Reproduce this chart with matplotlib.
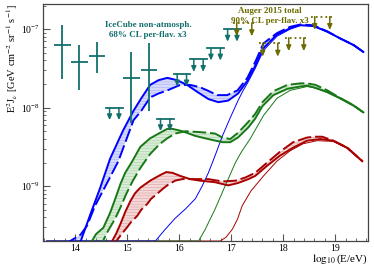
import numpy as np
import matplotlib
matplotlib.use('Agg')
from matplotlib import pyplot as plt
from matplotlib.ticker import MultipleLocator, FixedLocator, LogLocator, NullFormatter

plt.rcParams['font.family'] = ['Liberation Serif', 'DejaVu Serif']
plt.rcParams['mathtext.fontset'] = 'stix'
plt.rcParams['hatch.linewidth'] = 0.4

# x = log10(E/eV), y = log10(E^2 J)
blue_solid_x = [14.06, 14.10, 14.29, 14.48, 14.67, 14.92, 15.12, 15.27, 15.44, 15.60, 15.77, 15.96, 16.15, 16.35,
                16.56, 16.75, 16.94, 17.13, 17.31, 17.46, 17.62, 17.88, 18.13, 18.33, 18.58, 18.85, 19.10, 19.35, 19.54]
blue_solid_y = [-9.83, -9.71, -9.36, -9.02, -8.65, -8.29, -8.04, -7.88, -7.71, -7.65, -7.62, -7.65, -7.71, -7.80,
                -7.89, -7.93, -7.91, -7.82, -7.66, -7.47, -7.24, -7.07, -6.99, -6.95, -6.96, -7.03, -7.12, -7.20, -7.29]
blue_dash_x = [13.83, 13.90, 14.10, 14.23, 14.38, 14.58, 14.83, 15.02, 15.12, 15.27, 15.44, 15.60, 15.77, 16.02, 16.21,
               16.40, 16.54, 16.73, 16.92, 17.12, 17.31, 17.46, 17.62, 17.88, 18.13, 18.33, 18.58, 18.85, 19.10, 19.35, 19.54]
blue_dash_y = [-9.77, -9.70, -9.62, -9.50, -9.25, -9.00, -8.68, -8.34, -8.16, -8.04, -7.87, -7.82, -7.78, -7.71, -7.71,
               -7.74, -7.78, -7.84, -7.84, -7.78, -7.62, -7.42, -7.18, -7.05, -6.97, -6.94, -6.95, -7.03, -7.12, -7.20, -7.29]
blue_thin_x = [13.45, 15.44, 15.54, 15.73, 15.92, 16.12, 16.31, 16.44, 16.56, 16.69, 16.83, 16.98, 17.13, 17.23, 17.31,
               17.46, 17.62, 17.88, 18.13, 18.33, 18.58, 18.85, 19.10, 19.35, 19.54]
blue_thin_y = [-11.0, -9.77, -9.70, -9.55, -9.41, -9.29, -9.16, -9.00, -8.83, -8.61, -8.36, -8.13, -7.91, -7.78, -7.69,
               -7.50, -7.27, -7.09, -7.00, -6.95, -6.96, -7.04, -7.12, -7.21, -7.29]

green_solid_x = [14.25, 14.32, 14.40, 14.54, 14.67, 14.77, 14.87, 14.96, 15.09, 15.25, 15.44, 15.63, 15.77, 15.87, 16.06,
                 16.31, 16.56, 16.83, 16.98, 17.13, 17.33, 17.46, 17.60, 17.81, 18.08, 18.33, 18.46, 18.58, 18.85, 19.10,
                 19.35, 19.54]
green_solid_y = [-9.83, -9.70, -9.61, -9.53, -9.34, -9.16, -8.97, -8.83, -8.69, -8.50, -8.39, -8.32, -8.27, -8.27, -8.30,
                 -8.36, -8.40, -8.44, -8.44, -8.38, -8.25, -8.14, -7.98, -7.84, -7.76, -7.73, -7.72, -7.74, -7.80, -7.88,
                 -7.97, -8.06]
green_dash_x = [14.42, 14.54, 14.63, 14.77, 14.87, 14.98, 15.10, 15.25, 15.44, 15.63, 15.77, 15.92, 16.12, 16.37, 16.56,
                16.69, 16.83, 16.98, 17.13, 17.33, 17.46, 17.60, 17.81, 18.08, 18.33, 18.46, 18.62, 18.85, 19.10, 19.35, 19.54]
green_dash_y = [-9.77, -9.69, -9.57, -9.41, -9.27, -9.10, -8.94, -8.77, -8.59, -8.46, -8.39, -8.33, -8.30, -8.31, -8.32,
                -8.33, -8.38, -8.40, -8.32, -8.18, -8.08, -7.93, -7.79, -7.71, -7.69, -7.69, -7.71, -7.78, -7.88, -7.97, -8.06]
green_thin_x = [13.45, 16.31, 16.37, 16.50, 16.69, 16.88, 17.08, 17.19, 17.37, 17.62, 17.88, 18.13, 18.33, 18.46, 18.62,
                18.85, 19.10, 19.35, 19.54]
green_thin_y = [-11.0, -9.77, -9.70, -9.55, -9.29, -9.00, -8.70, -8.57, -8.39, -8.10, -7.88, -7.78, -7.75, -7.73, -7.75,
                -7.81, -7.89, -7.98, -8.06]

red_solid_x = [14.67, 14.71, 14.79, 14.87, 14.96, 15.06, 15.15, 15.25, 15.44, 15.63, 15.75, 15.87, 16.02, 16.21, 16.40,
               16.69, 16.94, 17.13, 17.33, 17.46, 17.69, 17.94, 18.19, 18.46, 18.71, 18.96, 19.23, 19.52]
red_solid_y = [-9.77, -9.70, -9.60, -9.48, -9.33, -9.19, -9.09, -9.02, -8.93, -8.86, -8.82, -8.83, -8.87, -8.91, -8.93,
               -8.95, -8.99, -8.96, -8.91, -8.87, -8.74, -8.61, -8.51, -8.42, -8.40, -8.42, -8.51, -8.68]
red_dash_x = [14.73, 14.79, 14.88, 14.99, 15.07, 15.19, 15.27, 15.38, 15.46, 15.57, 15.69, 15.79, 15.92, 16.06, 16.21,
              16.37, 16.56, 16.83, 17.08, 17.27, 17.46, 17.69, 17.94, 18.19, 18.46, 18.62, 18.75, 18.96, 19.23, 19.52]
red_dash_y = [-9.77, -9.70, -9.62, -9.53, -9.46, -9.38, -9.30, -9.23, -9.16, -9.10, -9.03, -8.98, -8.93, -8.91, -8.91,
              -8.91, -8.91, -8.94, -8.93, -8.89, -8.83, -8.70, -8.56, -8.44, -8.38, -8.37, -8.37, -8.42, -8.51, -8.68]
red_thin_x = [13.45, 16.69, 16.79, 16.90, 17.02, 17.12, 17.21, 17.38, 17.62, 17.88, 18.13, 18.38, 18.65, 18.96, 19.23,
              19.52]
red_thin_y = [-11.0, -9.77, -9.71, -9.65, -9.55, -9.42, -9.25, -9.06, -8.87, -8.68, -8.55, -8.46, -8.42, -8.43, -8.52,
              -8.69]

# IceCube data points
ic_x = [13.75, 14.08, 14.42, 15.08, 15.42]
ic_y = [-7.20, -7.42, -7.34, -7.62, -7.52]
ic_lo = [-7.63, -7.77, -7.56, -8.19, -8.04]
ic_hi = [-6.95, -7.20, -7.16, -7.29, -7.18]
# IceCube upper limits
icul_x = [14.75, 15.73, 16.05, 16.37, 16.70, 17.02]
icul_y = [-8.00, -8.14, -7.57, -7.385, -7.24, -7.00]
# Auger upper limits
au_x = [17.25, 17.75, 18.25, 18.75]
au_y = [-6.92, -7.18, -7.11, -6.84]

teal = '#13706c'
olive = '#6b6b00'
ymin, ymax = 2e-10, 2.1e-7


def draw_ul(ax, x, ly, half, off, drop, color, ls):
    y = 10 ** ly
    ax.plot([x - half, x + half], [y, y], color=color, lw=1.3, ls=ls, zorder=6)
    for dx in (-off, off):
        ax.annotate('', xy=(x + dx, 10 ** (ly - drop)), xytext=(x + dx, y),
                    arrowprops=dict(arrowstyle='-|>,head_width=0.2,head_length=0.45', color=color,
                                    lw=1.1, shrinkA=0, shrinkB=0, mutation_scale=7), zorder=6)


fig = plt.figure(figsize=(3.74, 2.78), dpi=100)
ax = fig.add_axes([0.115, 0.133, 0.869, 0.853])

sets = [
    (red_solid_x, red_solid_y, red_dash_x, red_dash_y, red_thin_x, red_thin_y, '#a80000', '#f4d8d8', '#dda0a0'),
    (green_solid_x, green_solid_y, green_dash_x, green_dash_y, green_thin_x, green_thin_y, '#187818', '#d8ecd6', '#a8d0a6'),
    (blue_solid_x, blue_solid_y, blue_dash_x, blue_dash_y, blue_thin_x, blue_thin_y, '#0000ff', '#d6dafc', '#a8b0f4'),
]
for sx, sy, dx, dy, tx, ty, c, fc, hc in sets:
    px = np.concatenate([sx, dx[::-1]])
    py = 10 ** np.concatenate([sy, dy[::-1]])
    ax.fill(px, py, facecolor=fc, edgecolor=hc, hatch='------', lw=0, zorder=1)
for sx, sy, dx, dy, tx, ty, c, fc, hc in sets:
    ax.plot(tx, np.maximum(10 ** np.array(ty), ymin), color=c, lw=0.7, zorder=2)
    ax.plot(sx, 10 ** np.array(sy), color=c, lw=1.4, zorder=3)
    ax.plot(dx, 10 ** np.array(dy), color=c, lw=1.4, dashes=(7, 2), zorder=3)

# IceCube points
yc = 10 ** np.array(ic_y)
yerr = [yc - 10 ** np.array(ic_lo), 10 ** np.array(ic_hi) - yc]
ax.errorbar(ic_x, yc, xerr=0.16, yerr=yerr, fmt='none', ecolor=teal, elinewidth=1.3, capsize=0, zorder=6)
for x, ly in zip(icul_x, icul_y):
    draw_ul(ax, x, ly, 0.16, 0.09, 0.16, teal, '-')
for x, ly in zip(au_x, au_y):
    draw_ul(ax, x, ly, 0.22, 0.145, 0.17, olive, ':')

ax.text(15.4, 10 ** -7.01, 'IceCube non-atmosph.\n68% CL per-flav. x3', ha='center', va='center',
        fontsize=6.5, fontweight='bold', color=teal, linespacing=1.25, zorder=7)
ax.text(17.74, 10 ** -6.83, 'Auger 2015 total\n90% CL per-flav. x3', ha='center', va='center',
        fontsize=6.5, fontweight='bold', color=olive, linespacing=1.25, zorder=7)

ax.set_yscale('log')
ax.set_xlim(13.38, 19.63)
ax.set_ylim(ymin, ymax)
ax.xaxis.set_major_locator(MultipleLocator(1))
ax.xaxis.set_minor_locator(MultipleLocator(0.2))
ax.yaxis.set_major_locator(FixedLocator([1e-9, 1e-8, 1e-7]))
ax.yaxis.set_minor_locator(LogLocator(base=10, subs=np.arange(2, 10)))
ax.yaxis.set_minor_formatter(NullFormatter())
ax.tick_params(which='both', direction='in', top=False, right=False, labelsize=7, color='#555555', pad=2)
ax.tick_params(which='major', length=5, width=0.8)
ax.tick_params(which='minor', length=2.5, width=0.6)
for s in ax.spines.values():
    s.set_color('#444444')
    s.set_linewidth(0.9)

ax.set_xlabel(r'$\log_{10}$(E/eV)', fontsize=8, loc='right', labelpad=0)
ax.set_ylabel(r'E$^2$J$_\nu$ [GeV cm$^{-2}$ sr$^{-1}$ s$^{-1}$]', fontsize=7.5, loc='top', labelpad=1)

fig.savefig('out.png', dpi=100)
